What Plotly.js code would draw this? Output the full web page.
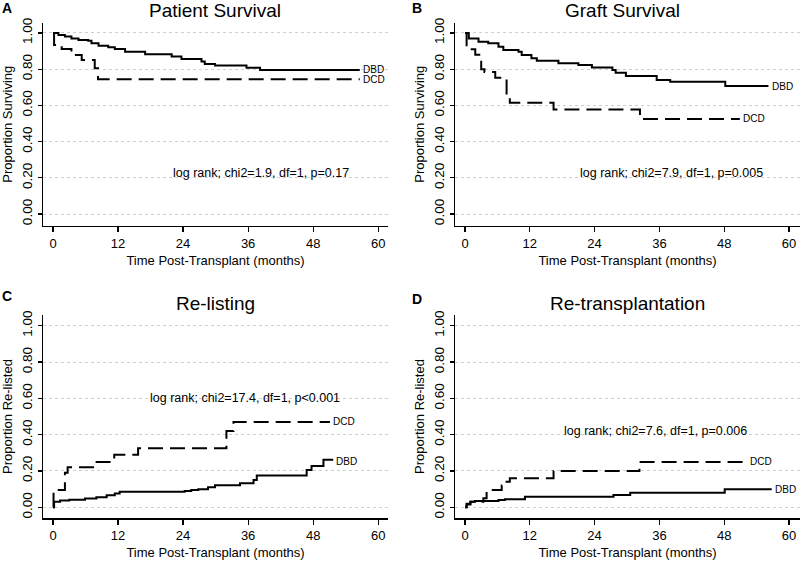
<!DOCTYPE html>
<html><head><meta charset="utf-8">
<script src="https://cdn.plot.ly/plotly-3.0.1.min.js"></script>
<style>html,body{margin:0;padding:0;background:#fff}</style>
</head><body><div id="chart" style="width:800px;height:566px"></div>
<script>
// ---- data (months, proportion) ----
const panelTitles = ["Patient Survival", "Graft Survival", "Re-listing", "Re-transplantation"];
const panelLetters = ["A", "B", "C", "D"];
const yTitles = ["Proportion Surviving", "Proportion Surviving", "Proportion Re-listed", "Proportion Re-listed"];
const xTitle = "Time Post-Transplant (months)";
const logRankTexts = ["log rank; chi2=1.9, df=1, p=0.17", "log rank; chi2=7.9, df=1, p=0.005",
                      "log rank; chi2=17.4, df=1, p<0.001", "log rank; chi2=7.6, df=1, p=0.006"];
const xTickVals = [0, 12, 24, 36, 48, 60];
const yTickVals = [0, 0.2, 0.4, 0.6, 0.8, 1.0];

const aDbdT = [0, 1.0, 2.2, 3.4, 4.7, 6.5, 7.1, 8.4, 10.2, 11.4, 13.3, 17.0, 21.9, 23.7, 27.4, 28.0, 29.9, 35.7, 38.2, 56.6];
const aDbdV = [1.0, 0.989, 0.98, 0.97, 0.961, 0.957, 0.943, 0.93, 0.921, 0.912, 0.897, 0.882, 0.87, 0.856, 0.842, 0.829, 0.82, 0.808, 0.796, 0.796];
const aDcdT = [0, 0.2, 1.6, 3.4, 5.3, 7.7, 8.3, 56.6];
const aDcdV = [1.0, 0.934, 0.912, 0.878, 0.851, 0.805, 0.744, 0.744];

const bDbdT = [0, 0.7, 2.5, 4.3, 6.2, 7.1, 9.9, 10.5, 12.3, 13.3, 17.3, 21.0, 23.5, 27.3, 27.9, 29.8, 35.5, 38.0, 48.2, 56.2];
const bDbdV = [1.0, 0.97, 0.952, 0.943, 0.924, 0.906, 0.897, 0.878, 0.86, 0.847, 0.833, 0.823, 0.81, 0.796, 0.78, 0.762, 0.74, 0.73, 0.707, 0.707];
const bDcdT = [0, 0.3, 1.9, 3.0, 3.6, 5.6, 7.7, 8.3, 16.4, 32.4, 50.9];
const bDcdV = [1.0, 0.91, 0.88, 0.80, 0.785, 0.753, 0.65, 0.615, 0.577, 0.525, 0.525];

const cDbdT = [0, 0.2, 1.3, 3.0, 5.9, 8.0, 9.9, 11.4, 12.3, 24.3, 25.5, 26.8, 28.6, 29.9, 34.5, 37.0, 37.6, 46.8, 47.7, 49.9, 51.7];
const cDbdV = [0, 0.03, 0.038, 0.042, 0.048, 0.055, 0.066, 0.076, 0.085, 0.09, 0.095, 0.10, 0.11, 0.122, 0.132, 0.15, 0.175, 0.205, 0.228, 0.262, 0.262];
const cDcdT = [0, 0.1, 2.2, 2.7, 7.7, 11.3, 15.7, 32.0, 33.3, 51.1];
const cDcdV = [0, 0.095, 0.19, 0.22, 0.25, 0.29, 0.325, 0.42, 0.47, 0.47];

const dDbdT = [0, 0.3, 1.0, 1.85, 6.2, 7.4, 11.1, 27.5, 30.6, 48.1, 56.8];
const dDbdV = [0, 0.02, 0.03, 0.035, 0.04, 0.044, 0.058, 0.068, 0.08, 0.10, 0.10];
const dDcdT = [0, 0.3, 1.0, 3.4, 4.0, 6.8, 7.5, 8.3, 16.4, 32.3, 52.2];
const dDcdV = [0, 0.015, 0.03, 0.05, 0.095, 0.12, 0.14, 0.16, 0.20, 0.25, 0.25];

// ---- build ----
const series = [
  [aDbdT, aDbdV, aDcdT, aDcdV],
  [bDbdT, bDbdV, bDcdT, bDcdV],
  [cDbdT, cDbdV, cDcdT, cDcdV],
  [dDbdT, dDbdV, dDcdT, dDcdV]
];
const textPos = [[38.4, 0.227], [38.3, 0.227], [35.4, 0.60], [35.2, 0.42]];
const dbdLabelDy = [0, 0, -0.01, 0];

const fontMain = "Liberation Sans, Arial, sans-serif";
const fontNarrow = "Liberation Sans Narrow, Arial Narrow, Liberation Sans, Arial, sans-serif";

const W = 800, H = 566;
const xDom = [[43/W, 388/W], [455/W, 800/W], [43/W, 388/W], [455/W, 800/W]];
const yDom = [[1-225.5/H, 1-23/H], [1-225.5/H, 1-23/H], [1-518/H, 1-315/H], [1-518/H, 1-315/H]];
const xRng = [[-1.845, 61.81], [-1.852, 62.04], [-1.845, 61.81], [-1.852, 62.04]];
const yRng = [[-0.0635, 1.0552], [-0.0635, 1.0552], [-0.059, 1.059], [-0.059, 1.059]];
const titleXY = [[215, 10], [622, 10], [215, 303], [627, 303]];
const letterXY = [[7, 8], [417, 8], [7, 296], [417, 299]];

const traces = [];
const layout = {
  width: W, height: H, margin: {l: 0, r: 0, t: 0, b: 0},
  paper_bgcolor: "#fff", plot_bgcolor: "#fff", showlegend: false,
  font: {family: fontMain, color: "#000"},
  annotations: []
};

for (let i = 0; i < 4; i++) {
  const n = i + 1;
  const xa = n === 1 ? "x" : "x" + n, ya = n === 1 ? "y" : "y" + n;
  const [t1, v1, t2, v2] = series[i];
  traces.push({x: t1, y: v1, xaxis: xa, yaxis: ya, mode: "lines", name: "DBD",
    line: {shape: "hv", color: "#000", width: 2}, hoverinfo: "skip"});
  traces.push({x: t2, y: v2, xaxis: xa, yaxis: ya, mode: "lines", name: "DCD",
    line: {shape: "hv", color: "#000", width: 2, dash: "15px,7px"}, hoverinfo: "skip"});

  layout["xaxis" + (n === 1 ? "" : n)] = {
    domain: xDom[i], range: xRng[i], anchor: ya, fixedrange: true,
    showline: true, linecolor: "#000", linewidth: 1.5, zeroline: false, showgrid: false,
    ticks: "outside", ticklen: 5, tickwidth: 1.2, tickcolor: "#000",
    tickvals: xTickVals, ticktext: xTickVals.map(String),
    tickfont: {family: fontMain, size: 13, color: "#000"},
    title: {text: xTitle, font: {family: fontMain, size: 13, color: "#000"}, standoff: 6}
  };
  layout["yaxis" + (n === 1 ? "" : n)] = {
    domain: yDom[i], range: yRng[i], anchor: xa, fixedrange: true,
    showline: true, linecolor: "#000", linewidth: 1.5, zeroline: false,
    showgrid: true, gridcolor: "#cfcfcf", gridwidth: 1, griddash: "dot",
    ticks: "outside", ticklen: 4, tickwidth: 1.2, tickcolor: "#000",
    tickvals: yTickVals, ticktext: yTickVals.map(v => v.toFixed(2)), tickangle: -90,
    tickfont: {family: fontNarrow, size: 13.5, color: "#000"},
    title: {text: yTitles[i], font: {family: fontMain, size: 13, color: "#000"}, standoff: 4}
  };

  layout.annotations.push({xref: "paper", yref: "paper", x: titleXY[i][0]/W, y: 1 - titleXY[i][1]/H,
    xanchor: "center", yanchor: "middle", showarrow: false, text: panelTitles[i],
    font: {family: fontMain, size: 19, color: "#000"}});
  layout.annotations.push({xref: "paper", yref: "paper", x: letterXY[i][0]/W, y: 1 - letterXY[i][1]/H,
    xanchor: "center", yanchor: "middle", showarrow: false, text: "<b>" + panelLetters[i] + "</b>",
    font: {family: fontMain, size: 14, color: "#000"}});
  layout.annotations.push({xref: xa, yref: ya, x: textPos[i][0], y: textPos[i][1],
    xanchor: "center", yanchor: "middle", showarrow: false, text: logRankTexts[i],
    font: {family: fontMain, size: 12.5, color: "#000"}});
  layout.annotations.push({xref: xa, yref: ya, x: t1[t1.length-1] + 0.2, y: v1[v1.length-1] + dbdLabelDy[i],
    xanchor: "left", yanchor: "middle", showarrow: false, text: "DBD",
    font: {family: fontNarrow, size: 10, color: "#000"}});
  layout.annotations.push({xref: xa, yref: ya, x: t2[t2.length-1] + 0.2, y: v2[v2.length-1],
    xanchor: "left", yanchor: "middle", showarrow: false, text: "DCD",
    font: {family: fontNarrow, size: 10, color: "#000"}});
}

Plotly.newPlot("chart", traces, layout, {displayModeBar: false, staticPlot: true});
</script>
</body></html>
